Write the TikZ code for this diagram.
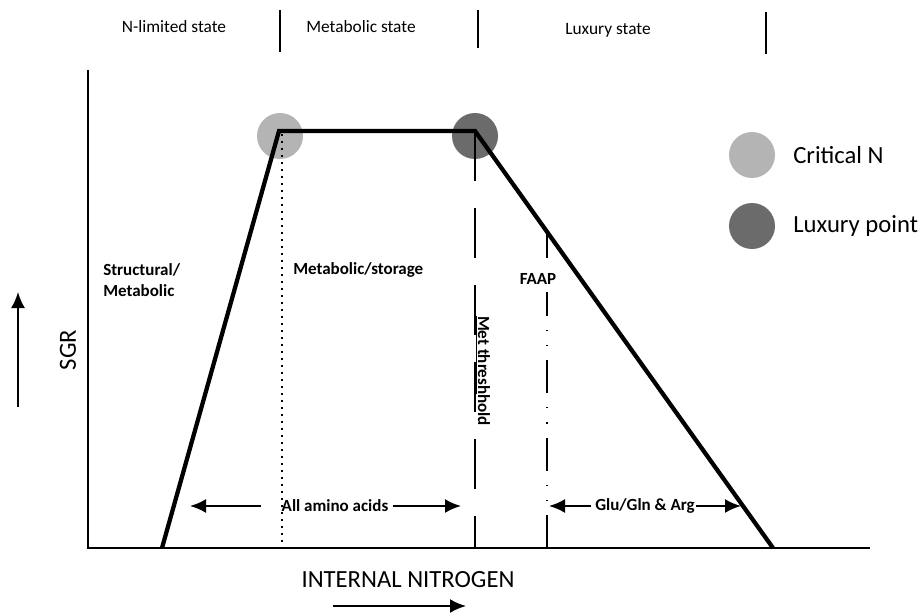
\documentclass[tikz,border=0pt]{standalone}
\usepackage{fontspec}
\setmainfont{Carlito}
\usetikzlibrary{arrows.meta}
\definecolor{critN}{HTML}{B4B4B4}
\definecolor{luxN}{HTML}{6B6B6B}
\begin{document}
\begin{tikzpicture}[x=0.75pt,y=-0.75pt,
  curve/.style={line width=3.2pt, line join=miter},
  axisline/.style={line width=1.5pt},
  sep/.style={line width=1.1pt},
  vline/.style={line width=1.2pt},
  lbl/.style={font=\fontsize{12.75}{15}\selectfont\bfseries, inner sep=0pt},
  toplbl/.style={font=\fontsize{13}{15}\selectfont, inner sep=0pt},
  biglbl/.style={font=\fontsize{18.5}{22}\selectfont, inner sep=0pt},
  dot/.style={circle, inner sep=0pt, minimum size=34.5pt},
  tip/.style={-{Latex[length=12pt,width=10.5pt]}, line width=1.6pt},
  ]
\useasboundingbox (0,0) rectangle (922,614);
\fill[white] (0,0) rectangle (922,614);

% state labels and separators
\node[toplbl] (nlim) at (174,27) {N-limited state};
\node[toplbl] (meta) at (361,27) {Metabolic state};
\node[toplbl] (luxs) at (608,30) {Luxury state};
\coordinate (s1a) at (280,10); \coordinate (s1b) at (280,52);
\coordinate (s2a) at (478,10); \coordinate (s2b) at (478,48);
\coordinate (s3a) at (766,12); \coordinate (s3b) at (766,54);
\draw[sep] (s1a) -- (s1b);
\draw[sep] (s2a) -- (s2b);
\draw[sep] (s3a) -- (s3b);

% marker circles
\node[dot, fill=critN] (cn) at (280,136) {};
\node[dot, fill=luxN] (lp) at (475,136) {};

% axes
\coordinate (ytop) at (88,70);
\coordinate (o) at (88,548);
\coordinate (xend) at (870,548);
\draw[axisline] (ytop) -- (o) -- (xend);

% growth curve
\coordinate (p0) at (162,548);
\coordinate (p1) at (279,131);
\coordinate (p2) at (475,131);
\coordinate (p3) at (773,548);

% critical N dotted line
\coordinate (cdt) at (282,134);
\coordinate (cdb) at (282,548);
\draw[line width=1.5pt, dash pattern=on 1.5pt off 3.75pt] (cdt) -- (cdb);

% metabolic threshold line
\coordinate (metb) at (475,548);
\draw[vline, dash pattern=on 37.5pt off 20.25pt] (p2) -- (metb);
\node[lbl, rotate=-90, anchor=south] (met) at (475,371) {\underline{Met thresh}hold};

% FAAP line
\coordinate (ft) at (547,232);
\coordinate (fm) at (547,258);
\coordinate (fl) at (547,292);
\coordinate (fb) at (547,548);
\draw[vline] (ft) -- (fm);
\node[lbl] (faap) at (538,279) {FAAP};
\draw[vline, dash pattern=on 24.75pt off 10.5pt on 0.9pt off 10.5pt on 0.9pt off 10.5pt] (fb) -- (fl);

\draw[curve] (p0) -- (p1) -- (p2) -- (p3);

% region labels
\node[lbl, align=left, anchor=north west] (strm) at (103,263) {Structural/\\[1pt]Metabolic};
\node[lbl, anchor=west] (mst) at (293,270) {Metabolic/storage};

% amino acid ranges
\node[lbl] (aa) at (335,506) {All amino acids};
\coordinate (aal) at (190,506);
\coordinate (aar) at (461,506);
\draw[tip] ([xshift=-15pt]aa.west) -- (aal);
\draw[tip] ([xshift=3pt]aa.east) -- (aar);
\node[lbl] (gg) at (645,506) {Glu/Gln \& Arg};
\coordinate (ggl) at (549,506);
\coordinate (ggr) at (741,506);
\draw[tip] ([xshift=-3pt]gg.west) -- (ggl);
\draw[tip] ([xshift=1pt]gg.east) -- (ggr);

% axis titles
\node[biglbl, rotate=90] (sgr) at (68,350) {SGR};
\coordinate (sgra) at (18,407);
\coordinate (sgrb) at (18,292);
\draw[tip] (sgra) -- (sgrb);
\node[biglbl] (inn) at (408,580) {INTERNAL NITROGEN};
\coordinate (ina) at (333,606);
\coordinate (inb) at (466,606);
\draw[tip] (ina) -- (inb);

% legend
\node[dot, fill=critN] (lgc) at (752,155) {};
\node[dot, fill=luxN] (lgl) at (752,226) {};
\node[biglbl, anchor=west] (lgct) at (793,155) {Critical N};
\node[biglbl, anchor=west] (lglt) at (793,226) {Luxury point};
\end{tikzpicture}
\end{document}
